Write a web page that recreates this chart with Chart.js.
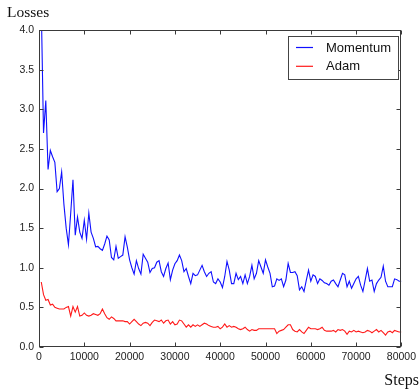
<!DOCTYPE html>
<html>
<head>
<meta charset="utf-8">
<script src="https://cdn.jsdelivr.net/npm/chart.js@4.4.1/dist/chart.umd.min.js"></script>
<style>
  html, body { margin: 0; padding: 0; background: #fff; }
  #grafico { display: block; }
</style>
</head>
<body>
<canvas id="grafico" width="420" height="392"></canvas>
<script>
'use strict';

// Paso de registro de la perdida (cada 500 pasos, de 500 a 80000)
const INTERVALO_PASOS = 500;
const NUM_PUNTOS = 160;
const PASOS = Array.from({ length: NUM_PUNTOS }, (_, i) => (i + 1) * INTERVALO_PASOS);

const TICKS_X = [0, 10000, 20000, 30000, 40000, 50000, 60000, 70000, 80000];
const TICKS_Y = [0.0, 0.5, 1.0, 1.5, 2.0, 2.5, 3.0, 3.5, 4.0];

const ETIQUETAS = ['Momentum', 'Adam'];

const PERDIDA_MOMENTUM = [
    4.3, 2.70, 3.11, 2.24, 2.48, 2.40, 2.33, 1.96, 2.00, 2.21,
    1.80, 1.50, 1.29, 1.69, 2.11, 1.41, 1.64, 1.45, 1.37, 1.60,
    1.36, 1.69, 1.45, 1.37, 1.265, 1.27, 1.24, 1.22, 1.30, 1.40,
    1.35, 1.13, 1.10, 1.27, 1.12, 1.14, 1.16, 1.39, 1.26, 1.10,
    1.00, 0.92, 1.09, 0.99, 0.92, 1.17, 1.12, 1.07, 0.94, 0.99,
    1.00, 1.07, 1.09, 0.95, 0.89, 0.99, 1.06, 0.85, 0.97, 1.05,
    1.09, 1.16, 1.09, 0.95, 0.99, 0.89, 0.80, 0.93, 0.90, 0.91,
    0.97, 1.03, 0.95, 0.89, 0.93, 0.95, 0.82, 0.80, 0.86, 0.82,
    0.75, 0.89, 1.08, 0.97, 0.80, 0.80, 0.93, 0.85, 0.89, 0.80,
    0.91, 0.80, 0.89, 1.03, 0.86, 0.93, 1.09, 1.01, 0.93, 1.10,
    1.01, 0.93, 0.76, 0.77, 0.86, 0.84, 0.86, 0.76, 0.845, 1.055,
    0.94, 0.94, 0.95, 0.90, 0.72, 0.76, 0.70, 0.84, 0.97, 0.83,
    0.91, 0.89, 0.80, 0.86, 0.84, 0.81, 0.80, 0.78, 0.83, 0.845,
    0.80, 0.76, 0.845, 0.93, 0.91, 0.76, 0.83, 0.74, 0.80, 0.86,
    0.89, 0.78, 0.70, 0.845, 0.99, 0.83, 0.845, 0.70, 0.80, 0.845,
    0.88, 1.02, 0.83, 0.76, 0.76, 0.76, 0.86, 0.85, 0.83, 0.83
];

const PERDIDA_ADAM = [
    0.82, 0.66, 0.59, 0.60, 0.53, 0.54, 0.50, 0.49, 0.48, 0.48,
    0.48, 0.50, 0.51, 0.39, 0.51, 0.44, 0.51, 0.39, 0.40, 0.43,
    0.40, 0.39, 0.40, 0.42, 0.41, 0.40, 0.42, 0.48, 0.42, 0.37,
    0.35, 0.38, 0.36, 0.33, 0.33, 0.33, 0.33, 0.32, 0.32, 0.29,
    0.32, 0.35, 0.32, 0.29, 0.27, 0.30, 0.31, 0.30, 0.27, 0.31,
    0.34, 0.33, 0.32, 0.34, 0.30, 0.33, 0.34, 0.29, 0.32, 0.28,
    0.29, 0.34, 0.33, 0.29, 0.25, 0.28, 0.25, 0.28, 0.26, 0.28,
    0.26, 0.28, 0.30, 0.29, 0.27, 0.26, 0.25, 0.25, 0.26, 0.23,
    0.25, 0.29, 0.25, 0.27, 0.25, 0.26, 0.25, 0.23, 0.22, 0.23,
    0.25, 0.22, 0.20, 0.22, 0.21, 0.21, 0.23, 0.23, 0.23, 0.23,
    0.23, 0.23, 0.23, 0.23, 0.17, 0.20, 0.21, 0.22, 0.25, 0.28,
    0.28, 0.22, 0.20, 0.19, 0.22, 0.19, 0.17, 0.21, 0.25, 0.23,
    0.23, 0.23, 0.22, 0.23, 0.25, 0.21, 0.20, 0.20, 0.20, 0.21,
    0.19, 0.22, 0.21, 0.22, 0.20, 0.16, 0.20, 0.19, 0.21, 0.19,
    0.20, 0.19, 0.18, 0.19, 0.21, 0.20, 0.18, 0.20, 0.22, 0.19,
    0.21, 0.18, 0.15, 0.19, 0.20, 0.18, 0.21, 0.20, 0.19, 0.19
];

const COLORES = ['#1010ff', '#ff1a1a'];
const COLOR_EJE = '#3a3a3a';
const FUENTE_SANS = '"Liberation Sans", Arial, sans-serif';
const FUENTE_SERIF = '"Liberation Serif", "Times New Roman", serif';

function aPuntos(valores) {
    return valores.map((v, i) => ({ x: PASOS[i], y: v }));
}

// Marco, ticks hacia dentro, leyenda dentro del area y titulos de ejes
const marcoEstiloClasico = {
    id: 'marcoEstiloClasico',
    afterDatasetsDraw(chart) {
        const { ctx, chartArea: a, scales } = chart;
        const izq = Math.round(a.left) + 0.5;
        const der = Math.round(a.right) - 0.5;
        const arr = Math.round(a.top) + 0.5;
        const aba = Math.round(a.bottom) - 0.5;
        const largoTick = 4;

        ctx.save();
        ctx.strokeStyle = COLOR_EJE;
        ctx.lineWidth = 1;
        ctx.beginPath();

        TICKS_X.forEach(v => {
            const px = Math.round(scales.x.getPixelForValue(v)) + 0.5;
            ctx.moveTo(px, aba); ctx.lineTo(px, aba - largoTick);
            ctx.moveTo(px, arr); ctx.lineTo(px, arr + largoTick);
        });
        TICKS_Y.forEach(v => {
            const py = Math.round(scales.y.getPixelForValue(v)) + 0.5;
            ctx.moveTo(izq, py); ctx.lineTo(izq + largoTick, py);
            ctx.moveTo(der, py); ctx.lineTo(der - largoTick, py);
        });
        ctx.stroke();
        ctx.strokeRect(izq, arr, der - izq, aba - arr);

        // Leyenda
        const caja = { x: 288.5, y: 36.5, w: 110, h: 43 };
        ctx.fillStyle = '#fff';
        ctx.fillRect(caja.x, caja.y, caja.w, caja.h);
        ctx.strokeStyle = '#444';
        ctx.strokeRect(caja.x, caja.y, caja.w, caja.h);
        ctx.font = '13px ' + FUENTE_SANS;
        ctx.textBaseline = 'middle';
        ctx.textAlign = 'left';
        chart.data.datasets.forEach((ds, i) => {
            const yy = 47.5 + i * 18.8;
            ctx.strokeStyle = ds.borderColor;
            ctx.lineWidth = 1.2;
            ctx.beginPath();
            ctx.moveTo(296, yy);
            ctx.lineTo(313, yy);
            ctx.stroke();
            ctx.fillStyle = '#111';
            ctx.fillText(ds.label, 326, yy + 0.5);
        });

        // Titulos de ejes
        ctx.fillStyle = '#111';
        ctx.font = '15.5px ' + FUENTE_SERIF;
        ctx.textBaseline = 'alphabetic';
        ctx.textAlign = 'left';
        ctx.fillText('Losses', 7, 17);
        ctx.font = '16px ' + FUENTE_SERIF;
        ctx.textAlign = 'right';
        ctx.fillText('Steps', 419, 385);
        ctx.restore();
    }
};

new Chart(document.getElementById('grafico'), {
    type: 'line',
    data: {
        datasets: [
            {
                label: ETIQUETAS[0],
                data: aPuntos(PERDIDA_MOMENTUM),
                borderColor: COLORES[0],
                borderWidth: 1.1,
                pointRadius: 0,
                tension: 0,
                fill: false
            },
            {
                label: ETIQUETAS[1],
                data: aPuntos(PERDIDA_ADAM),
                borderColor: COLORES[1],
                borderWidth: 1.1,
                pointRadius: 0,
                tension: 0,
                fill: false
            }
        ]
    },
    options: {
        responsive: false,
        animation: false,
        layout: { padding: { top: 30, right: 16, left: 0, bottom: 0 } },
        plugins: {
            legend: { display: false },
            tooltip: { enabled: false }
        },
        scales: {
            x: {
                type: 'linear',
                min: 0,
                max: 80000,
                grid: { display: false, drawTicks: false },
                border: { display: false },
                afterBuildTicks: s => { s.ticks = TICKS_X.map(v => ({ value: v })); },
                afterFit: s => { s.height = 45; },
                ticks: {
                    autoSkip: false,
                    maxRotation: 0,
                    padding: 4,
                    color: '#222',
                    font: { family: FUENTE_SANS, size: 10.5 },
                    callback: v => String(v)
                }
            },
            y: {
                type: 'linear',
                min: 0,
                max: 4,
                grid: { display: false, drawTicks: false },
                border: { display: false },
                afterBuildTicks: s => { s.ticks = TICKS_Y.map(v => ({ value: v })); },
                afterFit: s => { s.width = 39; },
                ticks: {
                    padding: 5,
                    color: '#222',
                    font: { family: FUENTE_SANS, size: 10.5 },
                    callback: v => Number(v).toFixed(1)
                }
            }
        }
    },
    plugins: [marcoEstiloClasico]
});
</script>
</body>
</html>
